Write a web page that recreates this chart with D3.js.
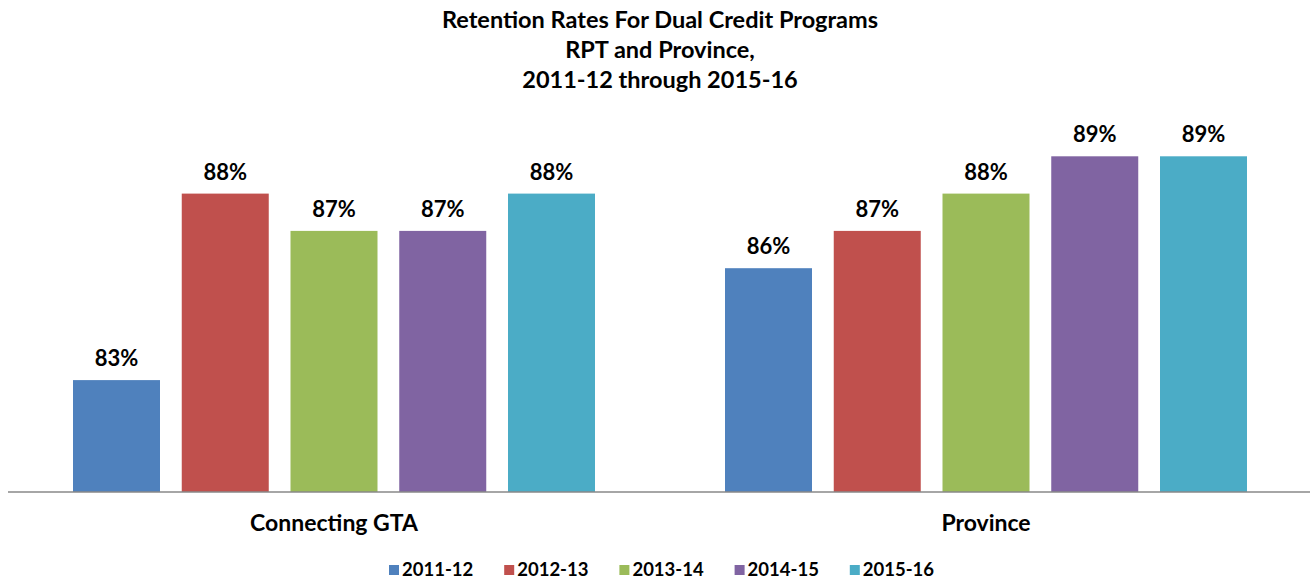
<!DOCTYPE html>
<html>
<head>
<meta charset="utf-8">
<script src="https://cdn.jsdelivr.net/npm/d3@7"></script>
<style>
  body { margin: 0; background: #fff; }
  text { font-family: Lato, "Open Sans", sans-serif; font-weight: bold; fill: #000; }
</style>
</head>
<body>
<div class="chart"></div>
<script>
var categories = ["Connecting GTA", "Province"];
var seasons = ["2011-12", "2012-13", "2013-14", "2014-15", "2015-16"];
var colors = ["#4f81bd", "#c0504d", "#9bbb59", "#8064a2", "#4bacc6"];
var values = {
  "Connecting GTA": [83, 88, 87, 87, 88],
  "Province": [86, 87, 88, 89, 89]
};
var titleLines = ["Retention Rates For Dual Credit Programs", "RPT and Province,", "2011-12 through 2015-16"];

var width = 1310, height = 583;
var baseY = 492, topY = 119;

var svg = d3.select(".chart").append("svg")
  .attr("width", width)
  .attr("height", height);

svg.selectAll("text.title")
  .data(titleLines)
  .enter().append("text")
    .attr("class", "title")
    .attr("x", 660)
    .attr("y", function(d, i){ return 28 + i * 30; })
    .attr("text-anchor", "middle")
    .style("font-size", "23.5px")
    .text(function(d){ return d; });

var x0 = d3.scaleBand().domain(categories).range([8, 1312]);
var x1 = d3.scaleBand().domain(seasons).range([65, 652 - 65]).paddingInner(0.2);
var y = d3.scaleLinear().domain([80, 90]).range([baseY, topY]);

var groups = svg.selectAll("g.group")
  .data(categories)
  .enter().append("g")
    .attr("class", "group")
    .attr("transform", function(d){ return "translate(" + x0(d) + ",0)"; });

groups.selectAll("rect")
  .data(function(c){ return values[c].map(function(v, i){ return {season: seasons[i], v: v, i: i}; }); })
  .enter().append("rect")
    .attr("x", function(d){ return x1(d.season); })
    .attr("y", function(d){ return y(d.v); })
    .attr("width", x1.bandwidth())
    .attr("height", function(d){ return baseY - y(d.v); })
    .attr("fill", function(d){ return colors[d.i]; });

groups.selectAll("text.val")
  .data(function(c){ return values[c].map(function(v, i){ return {season: seasons[i], v: v}; }); })
  .enter().append("text")
    .attr("class", "val")
    .attr("x", function(d){ return x1(d.season) + x1.bandwidth() / 2; })
    .attr("y", function(d){ return y(d.v) - 14; })
    .attr("text-anchor", "middle")
    .style("font-size", "22px")
    .text(function(d){ return d.v + "%"; });

// category axis
var axis = svg.append("g")
  .attr("transform", "translate(0," + baseY + ")")
  .call(d3.axisBottom(x0).tickSize(0).tickPadding(23));
axis.select(".domain").attr("stroke", "#888").attr("stroke-width", 1.5).attr("d", "M8,0H1310");
axis.selectAll(".tick text")
  .style("font-family", "Lato, 'Open Sans', sans-serif")
  .style("font-weight", "bold")
  .style("font-size", "23px")
  .attr("fill", "#000");

// legend
var legend = svg.selectAll("g.legend")
  .data(seasons)
  .enter().append("g")
    .attr("class", "legend")
    .attr("transform", function(d, i){ return "translate(" + (389 + i * 115.2) + ",565)"; });
legend.append("rect")
  .attr("width", 10).attr("height", 10)
  .attr("fill", function(d, i){ return colors[i]; });
legend.append("text")
  .attr("x", 13).attr("y", 11)
  .style("font-size", "18.5px")
  .text(function(d){ return d; });
</script>
</body>
</html>
